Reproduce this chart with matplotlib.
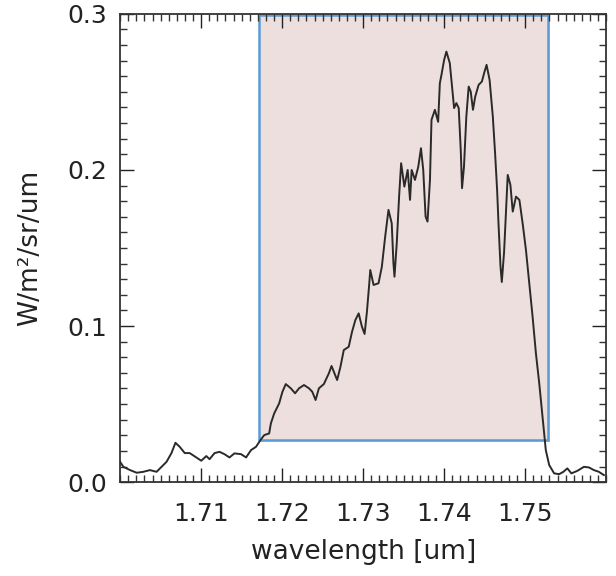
import matplotlib
matplotlib.use("Agg")
import matplotlib.pyplot as plt
import matplotlib.patheffects as pe
from matplotlib.patches import Rectangle
from matplotlib.ticker import MultipleLocator

# Spectrum: wavelength [um] and radiance [W/m^2/sr/um]
wavelength = [
    1.70000, 1.70040, 1.70123, 1.70205, 1.70286, 1.70368, 1.70450, 1.70512, 1.70573, 1.70634,
    1.70683, 1.70736, 1.70798, 1.70859, 1.70941, 1.71002, 1.71064, 1.71104, 1.71166, 1.71227,
    1.71288, 1.71350, 1.71411, 1.71493, 1.71555, 1.71616, 1.71677, 1.71739, 1.71779, 1.71840,
    1.71861, 1.71902, 1.71963, 1.72004, 1.72045, 1.72107, 1.72160, 1.72209, 1.72270, 1.72331,
    1.72372, 1.72413, 1.72454, 1.72515, 1.72577, 1.72610, 1.72638, 1.72679, 1.72720, 1.72761,
    1.72822, 1.72863, 1.72904, 1.72945, 1.72985, 1.73018, 1.73047, 1.73076, 1.73088, 1.73129,
    1.73190, 1.73231, 1.73272, 1.73313, 1.73353, 1.73374, 1.73387, 1.73415, 1.73444, 1.73469,
    1.73509, 1.73550, 1.73579, 1.73599, 1.73640, 1.73681, 1.73714, 1.73742, 1.73771, 1.73795,
    1.73825, 1.73844, 1.73886, 1.73926, 1.73947, 1.73967, 1.74000, 1.74028, 1.74070, 1.74098,
    1.74123, 1.74151, 1.74180, 1.74205, 1.74221, 1.74245, 1.74274, 1.74303, 1.74328, 1.74356,
    1.74384, 1.74426, 1.74466, 1.74499, 1.74524, 1.74561, 1.74601, 1.74629, 1.74654, 1.74671,
    1.74696, 1.74712, 1.74740, 1.74764, 1.74785, 1.74818, 1.74847, 1.74887, 1.74929, 1.74969,
    1.75010, 1.75051, 1.75092, 1.75133, 1.75174, 1.75215, 1.75255, 1.75297, 1.75358, 1.75420,
    1.75472, 1.75521, 1.75571, 1.75644, 1.75726, 1.75788, 1.75849, 1.75910, 1.75972,
]
radiance = [
    0.0130, 0.0098, 0.0077, 0.0060, 0.0066, 0.0077, 0.0066, 0.0098, 0.0130, 0.0186,
    0.0252, 0.0226, 0.0186, 0.0186, 0.0158, 0.0137, 0.0167, 0.0147, 0.0186, 0.0194,
    0.0179, 0.0158, 0.0184, 0.0179, 0.0158, 0.0205, 0.0226, 0.0274, 0.0301, 0.0312,
    0.0376, 0.0440, 0.0504, 0.0579, 0.0628, 0.0601, 0.0569, 0.0601, 0.0622, 0.0601,
    0.0579, 0.0526, 0.0601, 0.0628, 0.0697, 0.0744, 0.0707, 0.0654, 0.0739, 0.0846,
    0.0867, 0.0963, 0.1038, 0.1081, 0.0996, 0.0949, 0.1092, 0.1274, 0.1359, 0.1263,
    0.1274, 0.1380, 0.1572, 0.1744, 0.1658, 0.1402, 0.1316, 0.1530, 0.1829, 0.2043,
    0.1893, 0.2000, 0.1808, 0.2000, 0.1936, 0.2021, 0.2139, 0.2000, 0.1701, 0.1669,
    0.1936, 0.2321, 0.2385, 0.2308, 0.2556, 0.2609, 0.2705, 0.2758, 0.2684, 0.2534,
    0.2396, 0.2428, 0.2396, 0.2128, 0.1883, 0.2021, 0.2342, 0.2534, 0.2502, 0.2385,
    0.2470, 0.2545, 0.2566, 0.2630, 0.2673, 0.2577, 0.2342, 0.2107, 0.1872, 0.1658,
    0.1380, 0.1282, 0.1474, 0.1731, 0.1968, 0.1904, 0.1733, 0.1829, 0.1808, 0.1658,
    0.1487, 0.1274, 0.1060, 0.0825, 0.0633, 0.0419, 0.0205, 0.0109, 0.0056, 0.0051,
    0.0066, 0.0088, 0.0056, 0.0072, 0.0098, 0.0094, 0.0077, 0.0066, 0.0045,
]

# Highlighted band: wavelength range and radiance range
band_wl = [1.7171, 1.7528]
band_rad = [0.0270, 0.2990]

x_ticks = [1.71, 1.72, 1.73, 1.74, 1.75]
x_tick_labels = ["1.71", "1.72", "1.73", "1.74", "1.75"]
y_ticks = [0.0, 0.1, 0.2, 0.3]
y_tick_labels = ["0.0", "0.1", "0.2", "0.3"]

fig = plt.figure(figsize=(6.16, 5.76), dpi=100)
ax = fig.add_axes([0.195, 0.163, 0.789, 0.813])

band = Rectangle((band_wl[0], band_rad[0]), band_wl[1] - band_wl[0], band_rad[1] - band_rad[0],
                 facecolor="#eedfdf", edgecolor="#5b9bd5", linewidth=1.8, zorder=1)
band.set_path_effects([pe.SimplePatchShadow(offset=(1.5, -1.5), shadow_rgbFace="#999999", alpha=0.35),
                       pe.Normal()])
ax.add_patch(band)

ax.plot(wavelength, radiance, color="#2a2a2a", linewidth=1.4, zorder=3)

ax.set_xlim(1.70, 1.76)
ax.set_ylim(0.0, 0.3)
ax.set_xticks(x_ticks)
ax.set_xticklabels(x_tick_labels)
ax.set_yticks(y_ticks)
ax.set_yticklabels(y_tick_labels)
ax.xaxis.set_minor_locator(MultipleLocator(0.001))
ax.yaxis.set_minor_locator(MultipleLocator(0.01))

ax.tick_params(which="both", direction="in", top=True, right=True, color="#333333", width=1.0)
ax.tick_params(which="major", length=10, labelsize=18, colors="#222222")
ax.tick_params(which="minor", length=5)
ax.tick_params(axis="x", which="major", pad=14)
ax.tick_params(axis="y", which="major", pad=9)
for sp in ax.spines.values():
    sp.set_color("#333333")
    sp.set_linewidth(1.3)

ax.set_xlabel("wavelength [um]", fontsize=19, color="#222222", labelpad=10)
ax.set_ylabel("W/m²/sr/um", fontsize=19, color="#222222", labelpad=18)

fig.savefig("out.png", dpi=100)
